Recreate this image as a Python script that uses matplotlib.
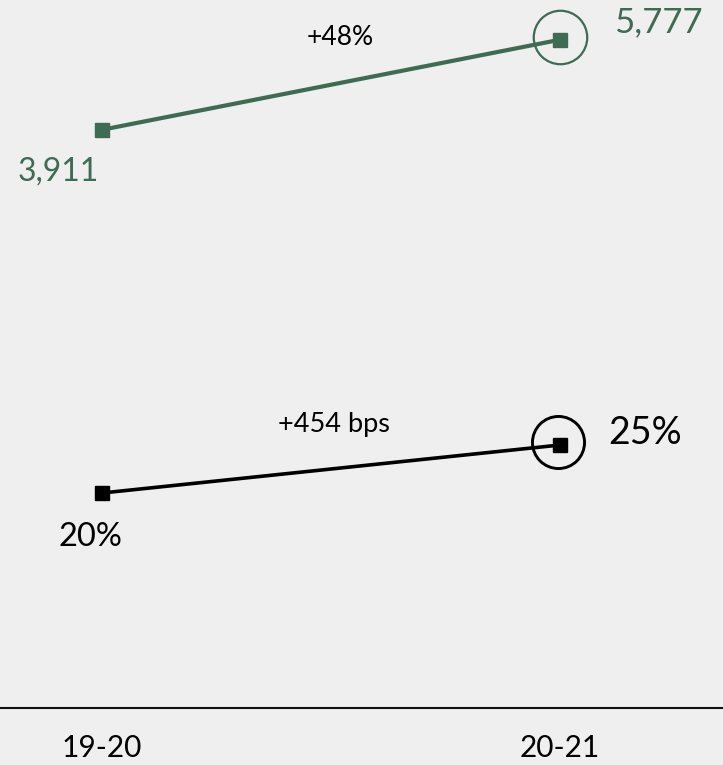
import matplotlib
matplotlib.use("Agg")
import matplotlib.pyplot as plt
from matplotlib.transforms import offset_copy

# Data
periods = ["19-20", "20-21"]
volume = [3911, 5777]          # green series
share = [20.40, 24.94]         # black series, percent
volume_change = "+48%"
share_change = "+454 bps"

GREEN = "#3d6b53"
BLACK = "#000000"
BG = "#efefef"

plt.rcParams["font.family"] = ["Lato", "DejaVu Sans"]

W, H, DPI = 723, 765, 100
fig = plt.figure(figsize=(W / DPI, H / DPI), dpi=DPI, facecolor=BG)
ax = fig.add_axes([0, 57 / H, 1, 708 / H], facecolor=BG)
ax2 = ax.twinx()

x = list(range(len(periods)))
ax.set_xlim(-102 / 458, (W - 102) / 458)

# Volume line (left scale)
ax.set_ylim(-8070, 6600)
ax.plot(x, volume, color=GREEN, lw=3.0, marker="s", ms=10, zorder=3)
ring = offset_copy(ax.transData, fig=fig, x=0, y=3, units="dots")
ax.plot([x[-1]], [volume[-1]], marker="o", ms=38.5, mfc="none", mec=GREEN,
        mew=1.6, zorder=3, transform=ring)

# Share line (right scale)
ax2.set_ylim(0.06, 67.04)
ax2.plot(x, share, color=BLACK, lw=2.6, marker="s", ms=10, zorder=3)
ring2 = offset_copy(ax2.transData, fig=fig, x=-2.5, y=3, units="dots")
ax2.plot([x[-1]], [share[-1]], marker="o", ms=37.5, mfc="none", mec=BLACK,
         mew=2.1, zorder=3, transform=ring2)

# Value labels
ax.annotate(f"{volume[0]:,}", xy=(x[0], volume[0]), xytext=(-44, -42),
            textcoords="offset pixels", ha="center", va="center",
            color=GREEN, fontsize=23)
ax.annotate(f"{volume[1]:,}", xy=(x[1], volume[1]), xytext=(54, 17),
            textcoords="offset pixels", ha="left", va="center",
            color=GREEN, fontsize=25)
ax.annotate(volume_change, xy=(0.5, volume[1]), xytext=(9, 2),
            textcoords="offset pixels", ha="center", va="center",
            color=BLACK, fontsize=19)

ax2.annotate(f"{share[0]:.0f}%", xy=(x[0], share[0]), xytext=(-12, -44),
             textcoords="offset pixels", ha="center", va="center",
             color=BLACK, fontsize=23.5)
ax2.annotate(f"{share[1]:.0f}%", xy=(x[1], share[1]), xytext=(48, 12),
             textcoords="offset pixels", ha="left", va="center",
             color=BLACK, fontsize=27)
ax2.annotate(share_change, xy=(0.5, share[1]), xytext=(3, 21),
             textcoords="offset pixels", ha="center", va="center",
             color=BLACK, fontsize=19.5)

# Axes styling
for a in (ax, ax2):
    for s in ("top", "left", "right"):
        a.spines[s].set_visible(False)
    a.set_yticks([])
ax2.spines["bottom"].set_visible(False)
ax.spines["bottom"].set_linewidth(1.5)
ax.spines["bottom"].set_color("#111111")
ax.set_xticks(x)
ax.set_xticklabels(periods, fontsize=21.5)
ax.tick_params(axis="x", length=0, pad=19)

fig.savefig("out.png", dpi=DPI, facecolor=BG)
